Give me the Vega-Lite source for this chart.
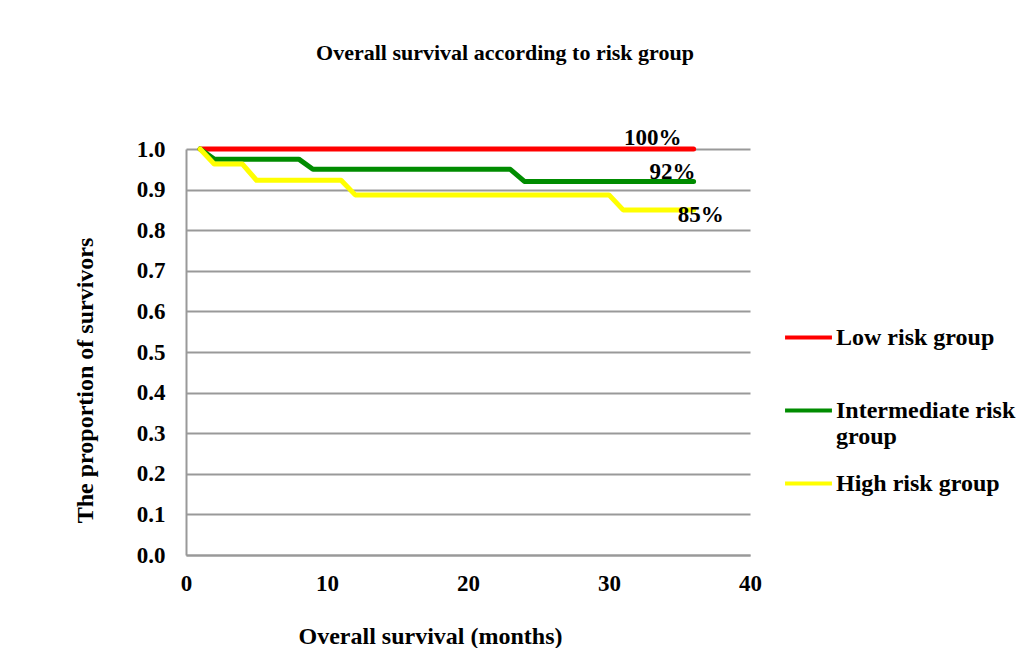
{
  "$schema": "https://vega.github.io/schema/vega-lite/v6.json",
  "width": 564,
  "height": 406,
  "autosize": {"type": "none"},
  "padding": {"left": 186, "top": 149, "right": 272, "bottom": 93},
  "background": "white",
  "title": {
    "text": "Overall survival according to risk group",
    "font": "Liberation Serif",
    "fontSize": 22,
    "fontWeight": "bold",
    "color": "black",
    "anchor": "middle",
    "dx": 37,
    "offset": 62
  },
  "config": {
    "view": {"stroke": null},
    "font": "Liberation Serif"
  },
  "datasets": {
    "curves": [
      {"group": "Low risk group", "month": 1, "survival": 1.0},
      {"group": "Low risk group", "month": 36, "survival": 1.0},
      {"group": "Intermediate risk group", "month": 1, "survival": 1.0},
      {"group": "Intermediate risk group", "month": 2, "survival": 0.975},
      {"group": "Intermediate risk group", "month": 8, "survival": 0.975},
      {"group": "Intermediate risk group", "month": 9, "survival": 0.95},
      {"group": "Intermediate risk group", "month": 23, "survival": 0.95},
      {"group": "Intermediate risk group", "month": 24, "survival": 0.92},
      {"group": "Intermediate risk group", "month": 36, "survival": 0.92},
      {"group": "High risk group", "month": 1, "survival": 1.0},
      {"group": "High risk group", "month": 2, "survival": 0.963},
      {"group": "High risk group", "month": 4, "survival": 0.963},
      {"group": "High risk group", "month": 5, "survival": 0.923},
      {"group": "High risk group", "month": 11, "survival": 0.923},
      {"group": "High risk group", "month": 12, "survival": 0.887},
      {"group": "High risk group", "month": 30, "survival": 0.887},
      {"group": "High risk group", "month": 31, "survival": 0.85},
      {"group": "High risk group", "month": 36, "survival": 0.85}
    ],
    "labels": [
      {"label": "100%", "month": 33.1, "survival": 1.027},
      {"label": "92%", "month": 34.5, "survival": 0.943},
      {"label": "85%", "month": 36.5, "survival": 0.837}
    ]
  },
  "layer": [
    {
      "data": {"name": "curves"},
      "mark": {"type": "line", "strokeWidth": 5, "strokeCap": "round", "strokeJoin": "round"},
      "encoding": {
        "x": {
          "field": "month",
          "type": "quantitative",
          "scale": {"domain": [0, 40], "nice": false},
          "axis": {
            "title": "Overall survival (months)",
            "values": [0, 10, 20, 30, 40],
            "grid": false,
            "ticks": false,
            "domainColor": "#999999",
            "domainWidth": 2,
            "labelFont": "Liberation Serif",
            "labelFontSize": 23,
            "labelFontWeight": "bold",
            "labelColor": "black",
            "labelPadding": 17,
            "labelFlush": false,
            "titleFont": "Liberation Serif",
            "titleFontSize": 24,
            "titleFontWeight": "bold",
            "titleColor": "black",
            "titleX": 244,
            "titleY": 81,
            "titleBaseline": "middle"
          }
        },
        "y": {
          "field": "survival",
          "type": "quantitative",
          "scale": {"domain": [0, 1], "nice": false},
          "axis": {
            "title": "The proportion of survivors",
            "values": [0, 0.1, 0.2, 0.3, 0.4, 0.5, 0.6, 0.7, 0.8, 0.9, 1.0],
            "format": ".1f",
            "grid": true,
            "gridColor": "#999999",
            "gridWidth": 2,
            "ticks": false,
            "domainColor": "#999999",
            "domainWidth": 2,
            "labelFont": "Liberation Serif",
            "labelFontSize": 23,
            "labelFontWeight": "bold",
            "labelColor": "black",
            "labelPadding": 21,
            "labelFlush": false,
            "titleFont": "Liberation Serif",
            "titleFontSize": 24,
            "titleFontWeight": "bold",
            "titleColor": "black",
            "titleX": -101,
            "titleY": 231,
            "titleBaseline": "middle",
            "titleAngle": -90
          }
        },
        "color": {
          "field": "group",
          "type": "nominal",
          "sort": null,
          "scale": {
            "domain": ["Low risk group", "Intermediate risk group", "High risk group"],
            "range": ["#FF0000", "#008C00", "#FFFF00"]
          },
          "legend": {
            "title": null,
            "orient": "none",
            "legendX": 597,
            "legendY": 163,
            "symbolType": "stroke",
            "symbolSize": 2200,
            "symbolStrokeWidth": 4,
            "labelFont": "Liberation Serif",
            "labelFontSize": 24,
            "labelFontWeight": "bold",
            "labelColor": "black",
            "labelLimit": 300,
            "labelOffset": 2,
            "rowPadding": 9,
            "labelExpr": "datum.label == 'Intermediate risk group' ? ['Intermediate risk', 'group'] : [datum.label, ' ']"
          }
        }
      }
    },
    {
      "data": {"name": "labels"},
      "mark": {"type": "text", "font": "Liberation Serif", "fontSize": 23, "fontWeight": "bold", "color": "black", "align": "center", "baseline": "middle"},
      "encoding": {
        "x": {"field": "month", "type": "quantitative"},
        "y": {"field": "survival", "type": "quantitative"},
        "text": {"field": "label"}
      }
    }
  ]
}
